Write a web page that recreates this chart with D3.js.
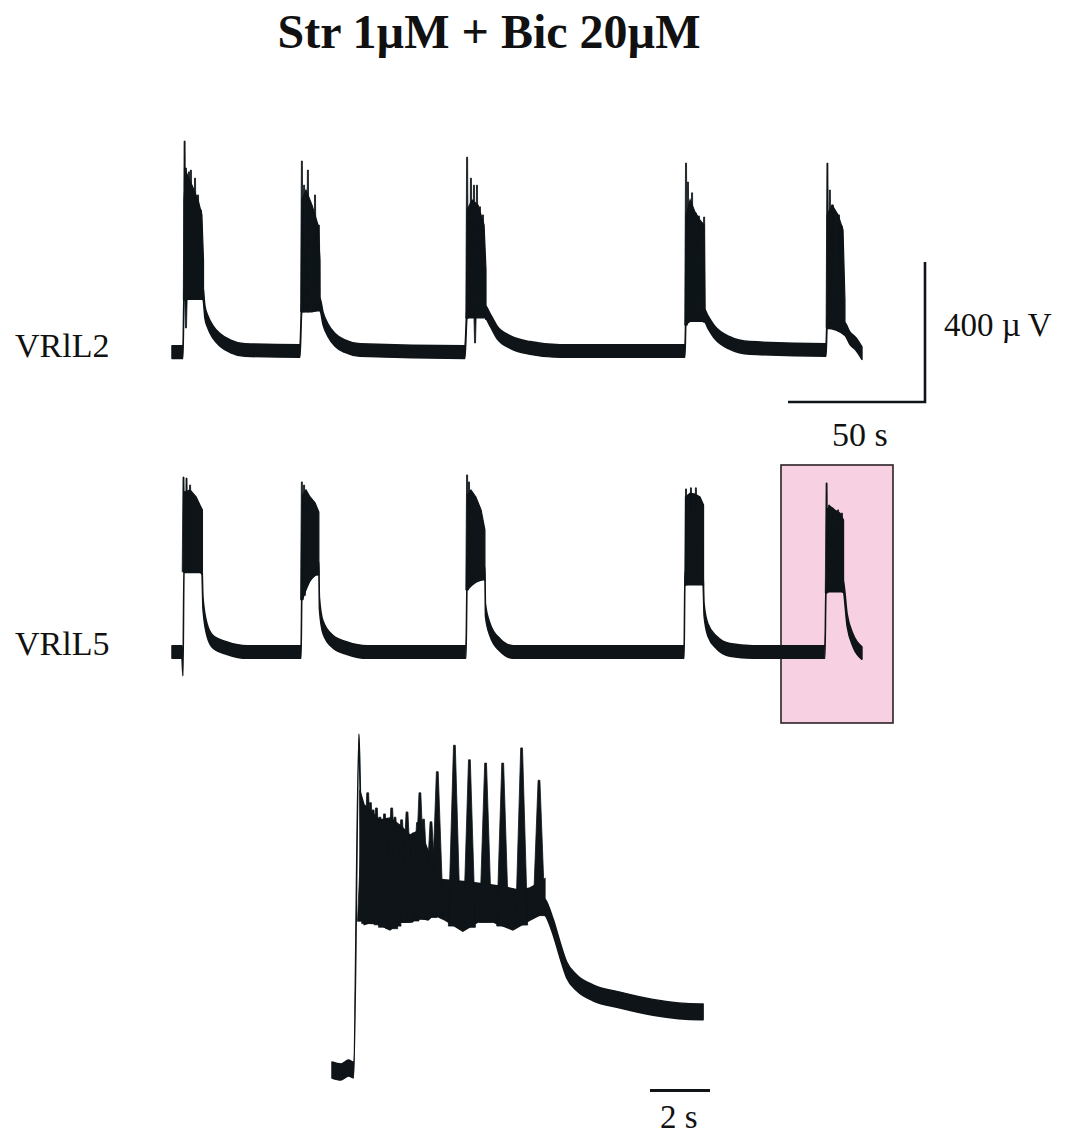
<!DOCTYPE html>
<html>
<head>
<meta charset="utf-8">
<script src="https://cdn.jsdelivr.net/npm/d3@7"></script>
<style>
  html, body { margin: 0; padding: 0; background: #fff; }
  svg { display: block; }
  text { font-family: "Liberation Serif", "Times New Roman", serif; fill: #111; }
</style>
</head>
<body>
<script>
// ---- Recorded traces (time in s, amplitude in µV) ----

// VRlL2: slow component (baseline, onsets, post-burst decays)
const l2Slow = [
  [0,-6],[4.0,-6],[4.4,163],[11.3,163],[12.0,109],[13.1,80],[15.0,51],[17.5,29],[21.2,11],[26.6,0],
  [46.7,-3],[47.4,130],[54.0,130],[55.1,91],[56.9,57],[59.5,29],[63.1,11],[68.6,0],
  [106.9,-6],[107.7,110],[114.2,110],[116.1,86],[118.6,51],[123.4,23],[130.7,6],[141.6,-3],
  [187.2,-3],[187.6,100],[194.2,100],[195.6,80],[198.2,49],[203.6,20],[210.9,6],
  [238.7,0],[239.1,80],[245.6,60],[247.4,34],[249.6,17],[251.8,-9]
];
// VRlL2: burst envelopes [t, lower, upper]
const l2Bursts = [
  [[4.4,143,429],[5.1,143,509],[7.3,149,471],[9.5,149,429],[10.9,149,386],[11.5,143,257]],
  [[47.4,109,429],[48.9,109,457],[51.1,109,414],[53.3,114,357],[54.0,114,257]],
  [[107.7,91,400],[109.5,100,429],[111.7,109,414],[113.9,100,357],[114.6,86,229]],
  [[187.6,71,386],[189.1,86,429],[190.9,91,394],[192.7,86,371],[194.2,80,357]],
  [[239.1,63,386],[240.9,86,414],[243.1,86,386],[244.9,71,343],[245.6,57,143]]
];
// VRlL2: spike peaks [t, peak]
const l2Spikes = [
  [4.6,597],[5.1,520],[6.2,509],[6.9,514],[8.4,491],[9.5,443],[10.6,400],
  [47.4,540],[48.2,471],[49.6,514],[52.2,443],[53.6,357],
  [107.7,551],[109.1,491],[110.2,471],[111.3,471],[112.4,409],[113.5,386],
  [187.6,534],[188.3,480],[189.8,449],[191.2,391],[192.3,383],[194.2,380],
  [239.2,534],[240.1,457],[241.2,414],[243.4,386],[244.5,354]
];
// VRlL2: downward deflections inside bursts [t, trough]
const l2Dips = [[5.1,63],[110.6,20]];

// VRlL5
const l5Slow = [
  [0,0],[3.6,0],[4.0,-50],[4.4,245],[10.9,245],[11.3,140],[12.8,63],[15.0,29],[20.1,11],[27.4,0],
  [47.1,0],[47.4,170],[53.6,240],[53.8,140],[55.1,71],[58.8,29],[63.9,11],[71.2,0],
  [107.3,0],[107.7,195],[114.2,225],[114.4,120],[116.1,63],[119.7,20],[124.5,0],
  [186.9,0],[187.2,210],[193.8,210],[194.2,120],[195.6,63],[198.9,26],[203.6,6],[212.0,0],
  [238.3,0],[238.7,190],[244.9,190],[246.4,91],[248.5,34],[251.8,-3]
];
const l5Bursts = [
  [[4.4,229,457],[6.6,229,463],[8.8,229,443],[10.2,229,420],[11.1,220,406]],
  [[47.6,149,449],[48.9,177,463],[50.4,206,443],[52.2,220,426],[53.6,220,400]],
  [[107.8,177,449],[109.1,206,463],[110.9,220,443],[112.8,220,406],[114.2,206,349]],
  [[187.4,191,443],[189.1,200,454],[190.9,206,451],[192.7,206,443],[194.0,191,420]],
  [[238.9,169,406],[240.1,177,417],[241.9,177,406],[243.8,177,397],[245.1,169,377]]
];
const l5Spikes = [
  [4.2,500],[5.3,497],[6.6,477],[47.4,486],[48.2,477],[107.7,506],[108.4,486],
  [187.6,466],[189.4,469],[191.2,469],
  [238.9,483],[239.8,420],[241.2,411],[243.1,406],[244.5,397]
];
const l5Dips = [];

// Expanded last VRlL5 burst
const expSlow = [
  [0,0],[0.3,-3],[0.55,3],[0.72,0],[0.90,497],[1.0,300],[7.0,250],[7.10,247],[7.37,217],
  [7.60,182],[7.82,152],[8.16,132],[8.70,117],[9.60,106],[10.70,95],[12.27,88],[12.37,88]
];
const expBursts = [[
  [0.93,258,424],[1.07,220,402],[1.33,224,391],[1.60,220,379],[1.93,212,382],[2.27,224,371],
  [2.60,224,356],[2.93,230,364],[3.20,227,333],[3.40,235,290],[3.77,227,276],[4.36,210,272],
  [4.86,224,275],[5.37,224,275],[6.03,212,270],[6.60,227,276],[6.95,235,285],[7.10,245,290]
]];
const expSpikes = [
  [1.05,400],[1.19,420],[1.28,405],[1.37,394],[1.48,397],[1.60,383],[1.75,388],[1.99,397],
  [2.10,383],[2.32,379],[2.50,391],[2.70,359],[2.85,375],[2.93,420],[3.05,380],[3.30,376],
  [3.51,452],[4.08,492],[4.58,470],[5.12,465],[5.69,465],[6.32,488],[6.90,439]
];

// Baseline noise half-amplitude (µV)
const noiseTop = 18;
const noiseExp = 12;

// Labels
const title = "Str 1µM + Bic 20µM";
const traceNames = ["VRlL2", "VRlL5"];
const barTimeTop = 50, barAmpTop = 400, barTimeExp = 2;

// ---- Drawing ----
const W = 1066, H = 1136;
const ink = "#0e1418";
const svg = d3.select("body").append("svg").attr("width", W).attr("height", H);

// Scales: 50 s -> 137 px, 400 µV -> 140 px; expanded: 2 s -> 60 px
const xTop = d3.scaleLinear().domain([0, 50]).range([172, 309]);
const yL2 = d3.scaleLinear().domain([0, 400]).range([350, 210]);
const yL5 = d3.scaleLinear().domain([0, 400]).range([652, 512]);
const xExp = d3.scaleLinear().domain([0, 2]).range([332, 392]);
const yExp = d3.scaleLinear().domain([0, 500]).range([1070, 740]);

// Highlight box around the burst shown expanded below
svg.append("rect")
  .attr("x", 781).attr("y", 465)
  .attr("width", 112).attr("height", 258)
  .attr("fill", "#f7d1e2").attr("stroke", "#2a2226").attr("stroke-width", 1.6);

function loAt(bursts, t) {
  for (const b of bursts) {
    if (t >= b[0][0] - 0.6 && t <= b[b.length - 1][0] + 0.6) {
      if (t <= b[0][0]) return b[0][1];
      if (t >= b[b.length - 1][0]) return b[b.length - 1][1];
      const i = d3.bisector(d => d[0]).right(b, t);
      const a = b[i - 1], c = b[i];
      const f = (t - a[0]) / (c[0] - a[0]);
      return a[1] + f * (c[1] - a[1]);
    }
  }
  return 0;
}

function drawTrace(g, x, y, slow, bursts, spikes, dips, noise, spikeBase, spikeTop) {
  const band = d3.area()
    .curve(d3.curveMonotoneX)
    .x(d => x(d[0]))
    .y0(d => y(d[1] - noise))
    .y1(d => y(d[1] + noise));
  g.append("path").attr("d", band(slow))
    .attr("fill", ink).attr("stroke", ink).attr("stroke-width", 1.5).attr("stroke-linejoin", "round");

  const env = d3.area().x(d => x(d[0])).y0(d => y(d[1])).y1(d => y(d[2]));
  g.selectAll(null).data(bursts).join("path")
    .attr("d", env)
    .attr("fill", ink).attr("stroke", ink).attr("stroke-width", 1.2);

  const poly = d3.line();
  const spikePath = (t, v, base) => {
    const cx = x(t);
    return poly([[cx - spikeBase, y(base)], [cx - spikeTop, y(v)], [cx + spikeTop, y(v)], [cx + spikeBase, y(base)]]) + "Z";
  };
  g.selectAll(null).data(spikes).join("path")
    .attr("d", d => spikePath(d[0], d[1], loAt(bursts, d[0])))
    .attr("fill", ink).attr("stroke", ink).attr("stroke-width", 0.8);
  g.selectAll(null).data(dips).join("path")
    .attr("d", d => spikePath(d[0], d[1], loAt(bursts, d[0]) + 20))
    .attr("fill", ink).attr("stroke", ink).attr("stroke-width", 0.8);
}

drawTrace(svg.append("g"), xTop, yL2, l2Slow, l2Bursts, l2Spikes, l2Dips, noiseTop, 1.3, 0.5);
drawTrace(svg.append("g"), xTop, yL5, l5Slow, l5Bursts, l5Spikes, l5Dips, noiseTop, 1.3, 0.5);
drawTrace(svg.append("g"), xExp, yExp, expSlow, expBursts, expSpikes, [], noiseExp, 6, 0.9);

// Title
svg.append("text").attr("x", 489).attr("y", 48)
  .attr("text-anchor", "middle").attr("font-weight", "bold").attr("font-size", 48)
  .text(title);

// Trace labels
svg.append("text").attr("x", 15).attr("y", 357).attr("font-size", 34).text(traceNames[0]);
svg.append("text").attr("x", 15).attr("y", 655).attr("font-size", 34).text(traceNames[1]);

// Calibration bars (top traces)
const barEndT = xTop.invert(925);
const barX1 = xTop(barEndT), barX0 = xTop(barEndT - barTimeTop);
const barY0 = 402, barY1 = barY0 - (yL2(0) - yL2(barAmpTop));
svg.append("path")
  .attr("d", d3.line()([[barX0, barY0], [barX1, barY0], [barX1, barY1]]))
  .attr("fill", "none").attr("stroke", ink).attr("stroke-width", 2.6);
const ampLabel = svg.append("text").attr("x", 944).attr("y", 336).attr("font-size", 33);
ampLabel.append("tspan").text(barAmpTop + " µ");
ampLabel.append("tspan").attr("dx", 7).text("V");
svg.append("text").attr("x", 832).attr("y", 446).attr("font-size", 34).text(barTimeTop + " s");

// Calibration bar (expanded trace)
const eb0 = xExp(10.6), eb1 = xExp(10.6 + barTimeExp);
svg.append("line").attr("x1", eb0).attr("x2", eb1).attr("y1", 1090.5).attr("y2", 1090.5)
  .attr("stroke", ink).attr("stroke-width", 3);
svg.append("text").attr("x", 660).attr("y", 1128).attr("font-size", 33).text(barTimeExp + " s");
</script>
</body>
</html>
